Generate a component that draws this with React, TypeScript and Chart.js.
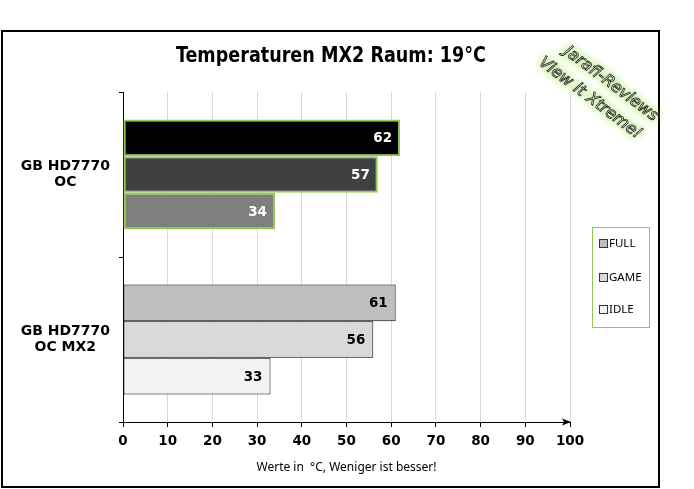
import React, { useEffect, useRef } from "react";
import { Chart, registerables } from "chart.js";

Chart.register(...registerables);

// ---- data ----
const categories: string[][] = [["GB HD7770", "OC"], ["GB HD7770", "OC MX2"]];
const seriesNames = ["FULL", "GAME", "IDLE"];
const fullValues = [62, 61];
const gameValues = [57, 56];
const idleValues = [34, 33];
const chartTitle = "Temperaturen MX2 Raum: 19°C";
const xAxisTitle = "Werte in  °C, Weniger ist besser!";
const watermarkLines = ["Jarafi-Reviews", "View it Xtreme!"];

// ---- styles ----
const fullColors = ["#000000", "#bfbfbf"];
const gameColors = ["#404040", "#d9d9d9"];
const idleColors = ["#7f7f7f", "#f2f2f2"];
const borderColors = ["#92c850", "#000000"];
const borderWidths = [2, 1];
const labelColors = ["#ffffff", "#000000"];
const legendColors = ["#bfbfbf", "#d9d9d9", "#f2f2f2"];
const GREEN = "#92c850";

const VERDANA = '"DejaVu Sans", Verdana, sans-serif';
const CALIBRI = '"Noto Sans", "Open Sans", sans-serif';
const TITLE_FONT = '"Liberation Sans Narrow", "DejaVu Sans Condensed", "Noto Sans", sans-serif';

const decorPlugin = {
  id: "decor",
  beforeDraw(chart: any) {
    const ctx = chart.ctx;
    ctx.save();
    ctx.fillStyle = "#ffffff";
    ctx.fillRect(0, 0, chart.width, chart.height);
    ctx.strokeStyle = "#000000";
    ctx.lineWidth = 2;
    ctx.strokeRect(2, 31, 657, 456);
    ctx.restore();
  },
  afterDraw(chart: any) {
    const ctx = chart.ctx;
    const area = chart.chartArea;
    ctx.save();
    // title (condensed to match the narrow original face)
    ctx.fillStyle = "#000";
    ctx.font = `bold 22px ${TITLE_FONT}`;
    ctx.textAlign = "center";
    ctx.textBaseline = "alphabetic";
    const tw = ctx.measureText(chartTitle).width;
    const sx = Math.min(1, 310 / tw);
    ctx.save();
    ctx.translate(331, 62);
    ctx.scale(sx, 1);
    ctx.fillText(chartTitle, 0, 0);
    ctx.restore();

    // arrow on x axis
    const xs = chart.scales.x;
    const ax = xs.getPixelForValue(100);
    const ay = area.bottom;
    ctx.beginPath();
    ctx.moveTo(ax + 1, ay);
    ctx.lineTo(ax - 8, ay - 3.5);
    ctx.lineTo(ax - 6, ay);
    ctx.lineTo(ax - 8, ay + 3.5);
    ctx.closePath();
    ctx.fillStyle = "#000";
    ctx.fill();

    // legend
    const lx = area.right + 22;
    const ly = 227;
    ctx.strokeStyle = GREEN;
    ctx.lineWidth = 1;
    ctx.strokeRect(lx + 0.5, ly + 0.5, 57, 100);
    ctx.font = `11.5px ${CALIBRI}`;
    ctx.textAlign = "left";
    ctx.textBaseline = "middle";
    const rows = [17, 51, 83];
    chart.data.datasets.forEach((ds: any, i: number) => {
      const cy = ly + rows[i];
      ctx.fillStyle = legendColors[i];
      ctx.fillRect(lx + 7.5, cy - 4.5, 8, 8);
      ctx.strokeStyle = "#333";
      ctx.strokeRect(lx + 7.5, cy - 4.5, 8, 8);
      ctx.fillStyle = "#000";
      ctx.fillText(ds.label, lx + 17, cy);
    });

    // watermark
    ctx.save();
    ctx.translate(599, 90);
    ctx.rotate((37 * Math.PI) / 180);
    ctx.font = `italic 16px ${VERDANA}`;
    ctx.textAlign = "center";
    ctx.textBaseline = "middle";
    watermarkLines.forEach((t, i) => {
      const y = i === 0 ? -12 : 12;
      const x = i === 0 ? 6 : -2;
      ctx.shadowColor = "rgba(150,230,60,0.95)";
      ctx.shadowBlur = 9;
      ctx.fillStyle = "#ffffff";
      ctx.fillText(t, x, y);
      ctx.fillText(t, x, y);
      ctx.shadowBlur = 0;
      ctx.lineWidth = 0.8;
      ctx.strokeStyle = "#222";
      ctx.strokeText(t, x, y);
    });
    ctx.restore();
    ctx.restore();
  },
  afterDatasetsDraw(chart: any) {
    const ctx = chart.ctx;
    ctx.save();
    ctx.font = `bold 13.5px ${VERDANA}`;
    ctx.textAlign = "right";
    ctx.textBaseline = "middle";
    chart.data.datasets.forEach((ds: any, di: number) => {
      const meta = chart.getDatasetMeta(di);
      meta.data.forEach((el: any, i: number) => {
        ctx.fillStyle = labelColors[i];
        ctx.fillText(String(ds.data[i]), el.x - 8, el.y + 1);
      });
    });
    ctx.restore();
  },
};

export default function App() {
  const ref = useRef<HTMLCanvasElement>(null);
  useEffect(() => {
    if (!ref.current) return;
    const mk = (label: string, data: number[], bg: string[]) => ({
      label,
      data,
      backgroundColor: bg,
      borderColor: borderColors,
      borderWidth: borderWidths,
      borderSkipped: false,
      categoryPercentage: 0.667,
      barPercentage: 1,
    });
    const chart = new Chart(ref.current, {
      type: "bar",
      data: {
        labels: categories,
        datasets: [
          mk(seriesNames[0], fullValues, fullColors),
          mk(seriesNames[1], gameValues, gameColors),
          mk(seriesNames[2], idleValues, idleColors),
        ],
      },
      options: {
        indexAxis: "y",
        responsive: false,
        animation: false,
        devicePixelRatio: 1,
        layout: { padding: { left: 0, right: 124, top: 92, bottom: 7 } },
        plugins: { legend: { display: false }, title: { display: false }, tooltip: { enabled: false } },
        scales: {
          x: {
            min: 0,
            max: 100,
            ticks: {
              stepSize: 10,
              color: "#000",
              padding: 6,
              font: { family: VERDANA, size: 13.5, weight: "bold" },
            },
            grid: { color: "#d9d9d9", tickColor: "#000", tickLength: 5, lineWidth: 1 },
            border: { color: "#000", width: 1 },
            title: {
              display: true,
              text: xAxisTitle,
              color: "#000",
              font: { family: CALIBRI, size: 12 },
              padding: { top: 0, bottom: 7 },
            },
            afterFit: (s: any) => {
              s.height = 60;
            },
          },
          y: {
            ticks: {
              color: "#000",
              crossAlign: "center",
              padding: 9,
              font: { family: VERDANA, size: 14, weight: "bold", lineHeight: 1.18 },
            },
            grid: { drawOnChartArea: false, color: "#000", tickColor: "#000", tickLength: 4 },
            border: { color: "#000", width: 1 },
            afterFit: (s: any) => {
              s.width = 123;
            },
          },
        },
      },
      plugins: [decorPlugin],
    } as any);
    return () => chart.destroy();
  }, []);
  return (
    <div style={{ position: "fixed", left: 0, top: 0, width: 694, height: 489 }}>
      <canvas ref={ref} width={694} height={489} />
    </div>
  );
}
